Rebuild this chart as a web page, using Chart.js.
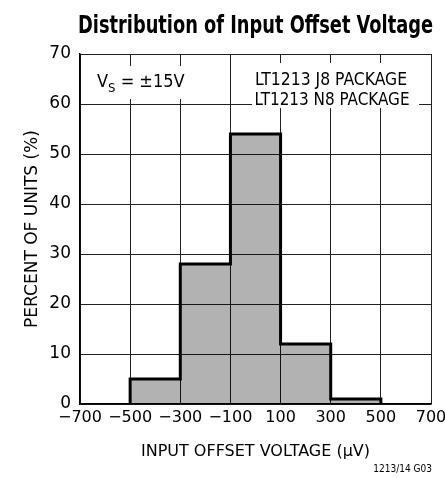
<!DOCTYPE html>
<html>
<head>
<meta charset="utf-8">
<script src="https://cdn.jsdelivr.net/npm/chart.js@4.4.1/dist/chart.umd.min.js"></script>
<style>
  body { margin: 0; background: #fff; }
  #wrap { width: 445px; height: 478px; }
</style>
</head>
<body>
<div id="wrap"><canvas id="histChart"></canvas></div>
<script>
const binEdges = [-500, -300, -100, 100, 300, 500];
const percentUnits = [5, 28, 54, 12, 1];
const xTicks = [-700, -500, -300, -100, 100, 300, 500, 700];
const yTicks = [0, 10, 20, 30, 40, 50, 60, 70];
const packageLines = ['LT1213 J8 PACKAGE', 'LT1213 N8 PACKAGE'];

const family = '"DejaVu Sans", sans-serif';

// bars sit on bin centres
const barData = percentUnits.map((v, i) => ({ x: (binEdges[i] + binEdges[i + 1]) / 2, y: v }));

// stepped outline of the histogram
const outline = [{ x: binEdges[0], y: 0 }];
percentUnits.forEach((v, i) => {
  outline.push({ x: binEdges[i], y: v });
  outline.push({ x: binEdges[i + 1], y: v });
});
outline.push({ x: binEdges[binEdges.length - 1], y: 0 });

function minus(v) {
  return v < 0 ? '\u2212' + Math.abs(v) : String(v);
}

// draws text squeezed to a given width
function fitText(ctx, text, x, y, width) {
  const w = ctx.measureText(text).width;
  ctx.save();
  ctx.translate(x, y);
  ctx.scale(width / w, 1);
  ctx.fillText(text, 0, 0);
  ctx.restore();
}

const extras = {
  id: 'extras',
  afterDraw(chart) {
    const { ctx, chartArea } = chart;
    ctx.save();
    ctx.fillStyle = '#000';
    ctx.textBaseline = 'alphabetic';

    // title
    ctx.font = 'bold condensed 25px ' + family;
    ctx.textAlign = 'center';
    fitText(ctx, 'Distribution of Input Offset Voltage', (chartArea.left + chartArea.right) / 2, 33, 355);

    // V_S label
    ctx.fillStyle = '#fff';
    ctx.fillRect(90, 66, 92, 33);
    ctx.fillStyle = '#000';
    ctx.textAlign = 'left';
    ctx.font = 'condensed 18px ' + family;
    let x = 97;
    ctx.fillText('V', x, 87);
    x += ctx.measureText('V').width;
    ctx.font = 'condensed 13px ' + family;
    ctx.fillText('S', x, 92);
    x += ctx.measureText('S').width;
    ctx.font = 'condensed 18px ' + family;
    ctx.fillText(' = \u00b115V', x, 87);

    // package box
    ctx.fillStyle = '#fff';
    ctx.fillRect(252, 63, 167, 45);
    ctx.fillStyle = '#000';
    ctx.textAlign = 'center';
    ctx.font = 'condensed 18px ' + family;
    fitText(ctx, packageLines[0], 331, 85, 152);
    fitText(ctx, packageLines[1], 332, 105, 155);

    // drawing number
    ctx.textAlign = 'right';
    ctx.font = 'condensed 10px ' + family;
    ctx.fillText('1213/14 G03', 432, 472);
    ctx.restore();
  }
};

new Chart(document.getElementById('histChart'), {
  type: 'bar',
  data: {
    datasets: [
      {
        type: 'line',
        data: outline,
        borderColor: '#000',
        borderWidth: 3,
        pointRadius: 0,
        tension: 0,
        fill: false,
        order: 0
      },
      {
        data: barData,
        backgroundColor: 'rgba(0,0,0,0.3)',
        borderWidth: 0,
        barPercentage: 1,
        categoryPercentage: 1,
        order: 1
      }
    ]
  },
  options: {
    responsive: true,
    maintainAspectRatio: false,
    animation: false,
    layout: { padding: { top: 54, right: 0, left: 0, bottom: 0 } },
    plugins: {
      legend: { display: false },
      tooltip: { enabled: false },
      title: { display: false }
    },
    scales: {
      x: {
        type: 'linear',
        min: -700,
        max: 700,
        offset: false,
        afterBuildTicks: (s) => { s.ticks = xTicks.map(v => ({ value: v })); },
        afterFit: (s) => {
          s.height = 74;
          s.paddingLeft = 0;
          s.paddingRight = 14;
        },
        ticks: {
          color: '#000',
          font: { family: family, style: 'condensed', size: 16 },
          padding: 4,
          autoSkip: false,
          maxRotation: 0,
          callback: (v) => minus(v)
        },
        grid: { color: '#222', lineWidth: 1, drawTicks: false, offset: false },
        border: { color: '#000', width: 1.5 },
        title: {
          display: true,
          text: 'INPUT OFFSET VOLTAGE (\u00b5V)',
          color: '#000',
          font: { family: family, style: 'condensed', size: 16 },
          padding: { top: 4, bottom: 17 }
        }
      },
      y: {
        min: 0,
        max: 70,
        afterBuildTicks: (s) => { s.ticks = yTicks.map(v => ({ value: v })); },
        afterFit: (s) => { s.width = 80; },
        ticks: {
          color: '#000',
          font: { family: family, style: 'condensed', size: 17 },
          padding: 9
        },
        grid: { color: '#222', lineWidth: 1, drawTicks: false },
        border: { color: '#000', width: 1.5 },
        title: {
          display: true,
          text: 'PERCENT OF UNITS (%)',
          color: '#000',
          font: { family: family, style: 'condensed', size: 17 },
          padding: { top: 22, bottom: 0 }
        }
      }
    }
  },
  plugins: [extras]
});
</script>
</body>
</html>
